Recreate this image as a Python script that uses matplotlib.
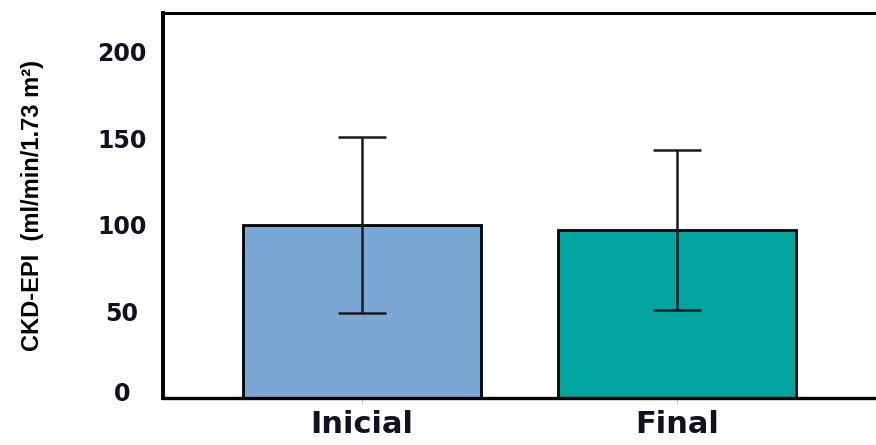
import matplotlib.pyplot as plt
from matplotlib.transforms import ScaledTranslation

# CKD-EPI values at start and end of follow-up
groups = ['Inicial', 'Final']
means = [100, 97]
sds = [51, 46]
colors = ['#7BA7D4', '#00A5A0']

fig = plt.figure(figsize=(8.76, 4.45), dpi=100)
ax = fig.add_axes([0.186, 0.106, 0.814, 0.865])

x = range(len(groups))
ax.bar(x, means, width=0.755, color=colors, edgecolor='black', linewidth=2, zorder=2)
ax.errorbar(x, means, yerr=sds, fmt='none', ecolor='#1a1a1a', elinewidth=1.8,
            capsize=17, capthick=1.8, zorder=3)

ax.set_xlim(-0.632, 1.632)
ax.set_ylim(0, 222.5)
ax.set_yticks([0, 50, 100, 150, 200])
ax.set_xticks(list(x))
ax.set_xticklabels(groups, fontsize=22, fontweight='bold', color='#111122',
                   family='DejaVu Sans')

ax.tick_params(axis='y', length=0, pad=29.5)
ax.tick_params(axis='x', length=4, color='#c8c8c8', pad=5)
for lbl in ax.get_yticklabels():
    lbl.set_fontsize(17)
    lbl.set_fontweight('bold')
    lbl.set_horizontalalignment('center')
    lbl.set_color('#111122')
# lift the zero label a little off the baseline
zero = ax.get_yticklabels()[0]
zero.set_transform(zero.get_transform() + ScaledTranslation(0, 6 / 100, fig.dpi_scale_trans))

ax.set_ylabel('CKD-EPI  (ml/min/1.73 m²)', fontsize=17, fontweight='bold',
              family='Liberation Sans', labelpad=38)

ax.spines['right'].set_visible(False)
ax.spines['left'].set_linewidth(2.8)
ax.spines['bottom'].set_linewidth(2.4)
ax.spines['top'].set_linewidth(2.2)

plt.savefig('out.png', dpi=100)
